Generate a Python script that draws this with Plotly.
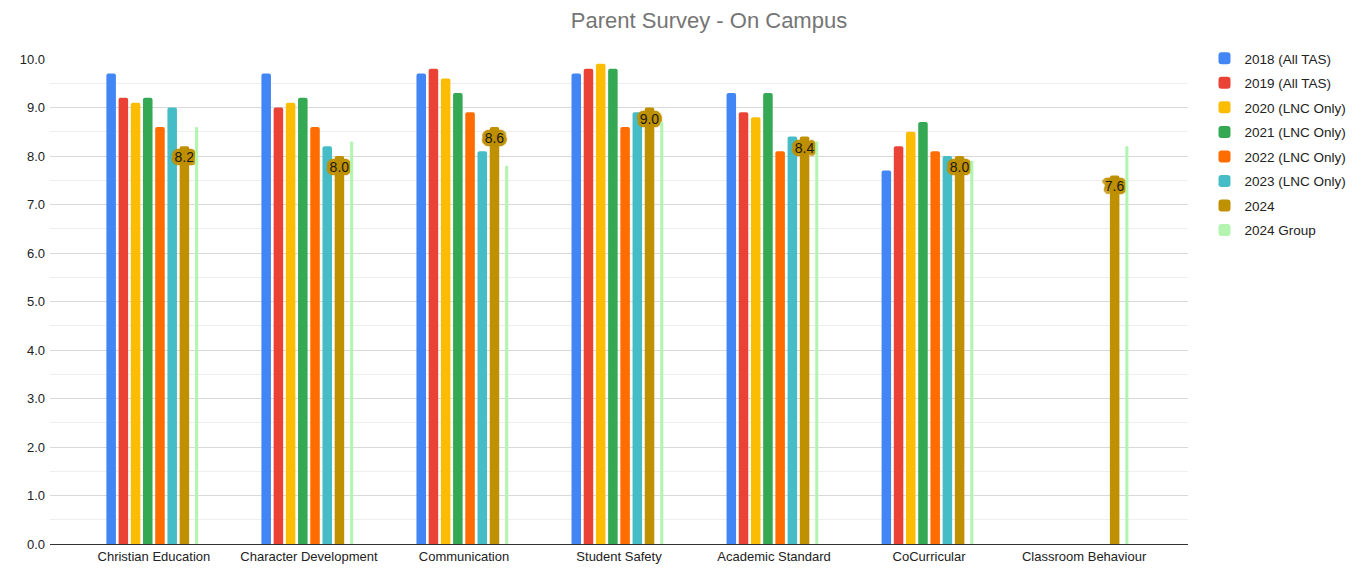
import plotly.graph_objects as go

categories = ["Christian Education", "Character Development", "Communication",
              "Student Safety", "Academic Standard", "CoCurricular", "Classroom Behaviour"]

series_names = ["2018 (All TAS)", "2019 (All TAS)", "2020 (LNC Only)", "2021 (LNC Only)",
                "2022 (LNC Only)", "2023 (LNC Only)", "2024", "2024 Group"]

v2018 = [9.7, 9.7, 9.7, 9.7, 9.3, 7.7, None]
v2019 = [9.2, 9.0, 9.8, 9.8, 8.9, 8.2, None]
v2020 = [9.1, 9.1, 9.6, 9.9, 8.8, 8.5, None]
v2021 = [9.2, 9.2, 9.3, 9.8, 9.3, 8.7, None]
v2022 = [8.6, 8.6, 8.9, 8.6, 8.1, 8.1, None]
v2023 = [9.0, 8.2, 8.1, 8.9, 8.4, 8.0, None]
v2024 = [8.2, 8.0, 8.6, 9.0, 8.4, 8.0, 7.6]
v2024_group = [8.6, 8.3, 7.8, 8.7, 8.3, 7.9, 8.2]

values = [v2018, v2019, v2020, v2021, v2022, v2023, v2024, v2024_group]
colors = ["#4285F4", "#EA4335", "#FBBC04", "#34A853", "#FF6D01", "#46BDC6", "#BF9000", "#B3F5B0"]

FONT = "Arial, Liberation Sans, Helvetica, sans-serif"

halo_col = "#BF9000"
offsets = [(-3, 0), (3, 0), (0, -3), (0, 3), (-2, -2), (2, 2), (-2, 2), (2, -2),
           (-3, -1), (3, 1), (-3, 1), (3, -1), (-1, -3), (1, 3), (1, -3), (-1, 3)]
halo = ", ".join(f"{dx}px {dy}px 1px {halo_col}" for dx, dy in offsets)

fig = go.Figure()
for i, (name, vals, col) in enumerate(zip(series_names, values, colors)):
    kw = {}
    if name == "2024":
        kw = dict(
            text=[f"{v:.1f}" if v is not None else "" for v in vals],
            textposition="inside",
            insidetextanchor="end",
            constraintext="none",
            textangle=0,
            textfont=dict(color="#1a1a1a", size=14, family=FONT, shadow=halo),
        )
    if name == "2024 Group":
        kw["width"] = 0.02
    fig.add_trace(go.Bar(
        x=list(range(len(categories))), y=vals, name=name,
        marker=dict(color=col, line=dict(width=0), cornerradius=2),
        legendgroup=name, hoverinfo="skip", cliponaxis=False, **kw))

fig.update_layout(
    width=1352, height=566,
    barmode="group", bargap=0.37, bargroupgap=0.22,
    plot_bgcolor="white", paper_bgcolor="white",
    font=dict(family=FONT, color="#222222", size=12),
    title=dict(text="Parent Survey - On Campus", x=0.5185, xref="container", xanchor="center",
               y=0.979, yref="container", yanchor="middle",
               font=dict(size=22, color="#757575", family=FONT)),
    margin=dict(l=42, r=172, t=51, b=30, autoexpand=False),
    legend=dict(x=1.0145, xanchor="left", y=1.033, yanchor="top",
                font=dict(size=13.5, color="#222222"), tracegroupgap=4,
                traceorder="grouped", itemclick=False),
    showlegend=True,
)
fig.update_xaxes(
    tickmode="array", tickvals=list(range(len(categories))), ticktext=categories,
    range=[-0.67, 6.67], showgrid=False, ticks="", tickfont=dict(size=13, color="#222222"),
    showline=False, zeroline=False, fixedrange=True, automargin=False, ticklabelstandoff=3,
)
fig.update_yaxes(
    range=[0, 10], dtick=1, tickformat=".1f", showgrid=True, gridcolor="#D9D9D9",
    minor=dict(dtick=0.5, showgrid=True, gridcolor="#EEEEEE"),
    zeroline=True, zerolinecolor="#333333", zerolinewidth=1,
    tickfont=dict(size=13, color="#222222"), ticks="", ticklabelstandoff=4,
    fixedrange=True, automargin=False,
)

fig.write_html("out.html")
